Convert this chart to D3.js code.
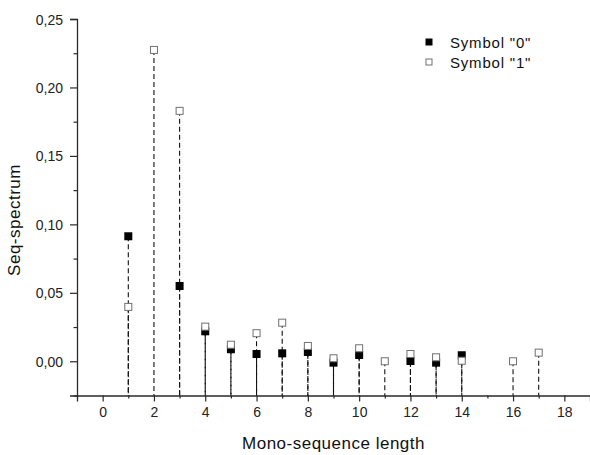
<!DOCTYPE html>
<html>
<head>
<meta charset="utf-8">
<script src="https://cdn.jsdelivr.net/npm/d3@7"></script>
<style>
  html, body { margin: 0; padding: 0; background: #fff; }
  svg { display: block; font-family: Arial, "Liberation Sans", sans-serif; }
</style>
</head>
<body>
<svg id="chart" width="590" height="455"></svg>
<script>
// ---- data ----
const seriesNames = ['Symbol "0"', 'Symbol "1"'];
const lengths0 = [1, 3, 4, 5, 6, 7, 8, 9, 10, 12, 13, 14];
const values0  = [0.0913, 0.055, 0.0219, 0.0088, 0.0053, 0.0058, 0.0068, -0.001, 0.0046, 0.0002, -0.001, 0.0044];
const lengths1 = [1, 2, 3, 4, 5, 6, 7, 8, 9, 10, 11, 12, 13, 14, 16, 17];
const values1  = [0.0397, 0.2274, 0.1829, 0.0253, 0.0121, 0.0205, 0.0282, 0.0112, 0.0022, 0.0095, 0.0, 0.0053, 0.0029, 0.0004, 0.0, 0.0063];
const xTicks = [0, 2, 4, 6, 8, 10, 12, 14, 16, 18];
const yTicks = [0, 0.05, 0.10, 0.15, 0.20, 0.25];
const xTitle = "Mono-sequence length";
const yTitle = "Seq-spectrum";

const svg = d3.select("#chart");
const x = d3.scaleLinear().domain([-1, 19]).range([77, 590]);
const y = d3.scaleLinear().domain([-0.025, 0.25]).range([395.5, 19]);
const yBase = y.domain()[0];
const fmt = d => d3.format(".2f")(d).replace(".", ",");

// minor ticks
const xMinor = d3.range(-1, 19, 2);
const yMinor = d3.range(-0.025, 0.26, 0.05).map(v => +v.toFixed(3));

// axes
const axisColor = "#2a2a2a";
const gx = svg.append("g").attr("transform", `translate(0,${y(yBase)})`);
gx.call(d3.axisBottom(x).tickValues(xTicks).tickFormat(d3.format("d")).tickSize(6).tickPadding(6));
gx.append("g").call(d3.axisBottom(x).tickValues(xMinor).tickFormat("").tickSize(3))
  .select(".domain").remove();

const gy = svg.append("g").attr("transform", `translate(${x(-1)},0)`);
gy.call(d3.axisLeft(y).tickValues(yTicks).tickFormat(fmt).tickSize(7).tickPadding(7));
gy.append("g").call(d3.axisLeft(y).tickValues(yMinor).tickFormat("").tickSize(3.5))
  .select(".domain").remove();

svg.selectAll(".domain").attr("stroke", axisColor).attr("stroke-width", 1.3);
svg.selectAll(".tick line").attr("stroke", axisColor).attr("stroke-width", 1.2);
svg.selectAll(".tick text").attr("font-size", 14).attr("fill", "#222")
   .attr("font-family", "Arial, 'Liberation Sans', sans-serif");
gy.selectAll(".tick text").attr("dy", "0.36em");

// data arrays
const d0 = lengths0.map((l, i) => ({ l, v: values0[i] }));
const d1 = lengths1.map((l, i) => ({ l, v: values1[i] }));

// drop lines (dashed, starting at the point)
const lines = svg.append("g").attr("stroke", "#111").attr("stroke-width", 1.1)
  .attr("stroke-dasharray", "5,3").attr("fill", "none");
lines.selectAll(".dl0").data(d0).join("line")
  .attr("x1", d => x(d.l)).attr("x2", d => x(d.l))
  .attr("y1", d => y(d.v)).attr("y2", y(yBase));
lines.selectAll(".dl1").data(d1).join("line")
  .attr("x1", d => x(d.l)).attr("x2", d => x(d.l))
  .attr("y1", d => y(d.v)).attr("y2", y(yBase));

// markers
const s = 8;
svg.append("g").selectAll("rect").data(d0).join("rect")
  .attr("x", d => x(d.l) - s / 2).attr("y", d => y(d.v) - s / 2)
  .attr("width", s).attr("height", s).attr("fill", "#000");
svg.append("g").selectAll("rect").data(d1).join("rect")
  .attr("x", d => x(d.l) - s / 2 + 0.5).attr("y", d => y(d.v) - s / 2 + 0.5)
  .attr("width", s - 1).attr("height", s - 1).attr("fill", "#fff")
  .attr("stroke", "#707070").attr("stroke-width", 1);

// legend
const legend = svg.append("g").attr("transform", "translate(429,42)");
seriesNames.forEach((name, i) => {
  const g = legend.append("g").attr("transform", `translate(0,${i * 20})`);
  if (i === 0) {
    g.append("rect").attr("x", -3.5).attr("y", -3.5).attr("width", 7).attr("height", 7).attr("fill", "#000");
  } else {
    g.append("rect").attr("x", -3).attr("y", -3).attr("width", 6).attr("height", 6)
      .attr("fill", "#fff").attr("stroke", "#707070");
  }
  g.append("text").attr("x", 21).attr("y", 5.5).attr("font-size", 15)
    .attr("letter-spacing", 0.8).attr("fill", "#111").text(name);
});

// titles
svg.append("text").attr("x", x(9)).attr("y", 449).attr("text-anchor", "middle")
  .attr("font-size", 17).attr("letter-spacing", 0.5).attr("fill", "#111").text(xTitle);
svg.append("text").attr("transform", "translate(20,220) rotate(-90)").attr("text-anchor", "middle")
  .attr("font-size", 17).attr("letter-spacing", 0.5).attr("fill", "#111").text(yTitle);
</script>
</body>
</html>
